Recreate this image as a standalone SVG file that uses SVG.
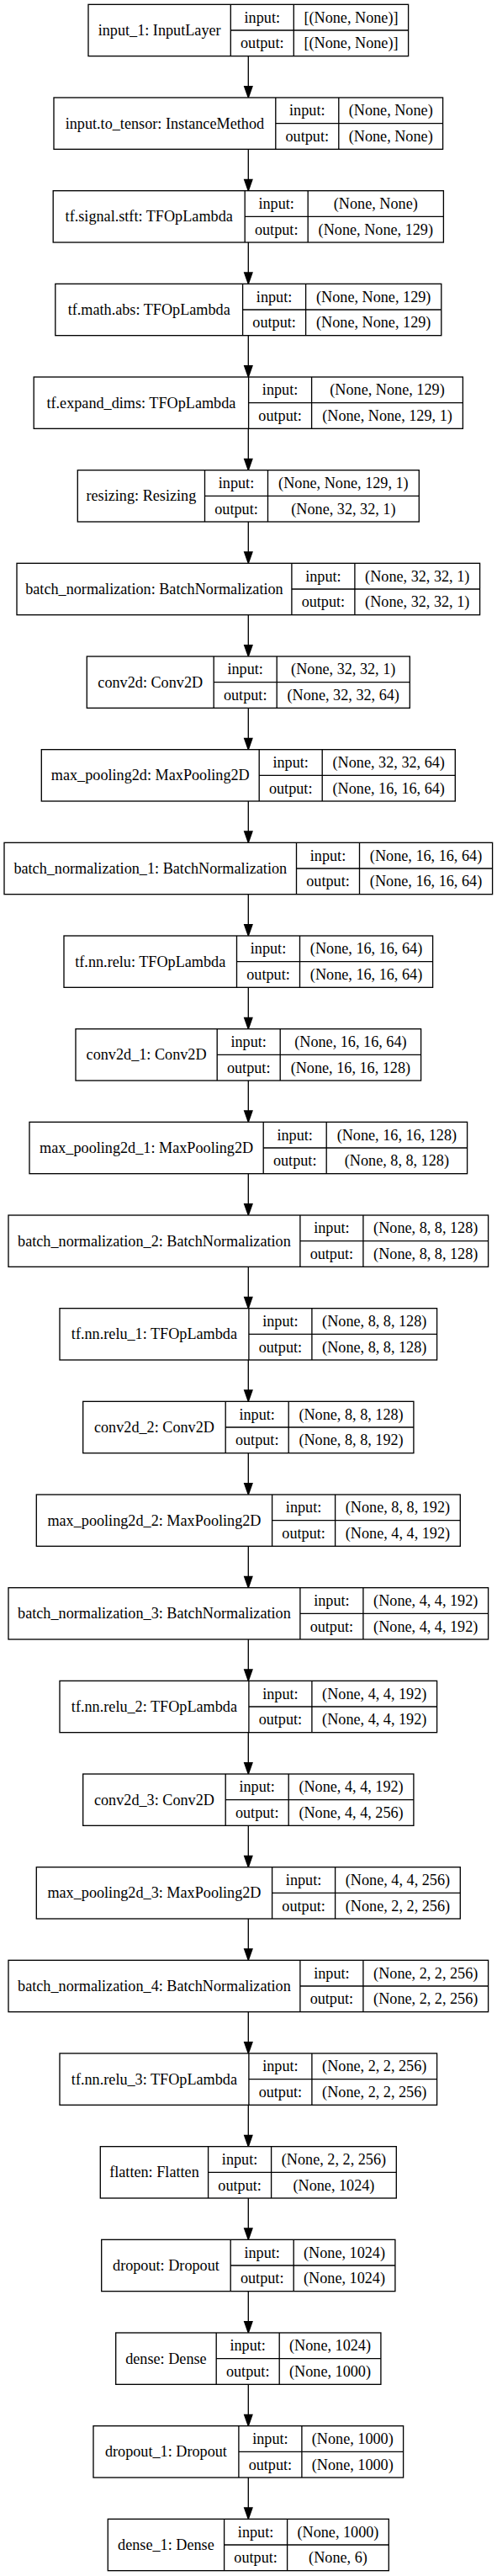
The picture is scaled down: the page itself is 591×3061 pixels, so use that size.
<svg xmlns="http://www.w3.org/2000/svg" width="591" height="3061" viewBox="0 0 591 3061">
<style>
.nd rect{fill:#fff;stroke:#000;stroke-width:1.33}
.nd path{fill:none;stroke:#000;stroke-width:1.33}
.nd text{font-family:"Liberation Serif","Times New Roman",serif;font-size:18.2px;fill:#000;text-anchor:middle}
#edges path{fill:none;stroke:#000;stroke-width:1.33}
</style>
<defs>
<marker id="arrow" markerUnits="userSpaceOnUse" markerWidth="16" markerHeight="12" refX="1" refY="6" orient="auto" overflow="visible">
<path d="M1,1.33 L14.33,6 L1,10.67 Z" fill="#000" stroke="#000" stroke-width="1.33"/>
</marker>
</defs>
<rect x="0" y="0" width="591" height="3061" fill="#fff"/>
<g id="edges">
<path d="M295.3 66.67V102.67" marker-end="url(#arrow)"/>
<path d="M295.3 177.33V213.33" marker-end="url(#arrow)"/>
<path d="M295.3 288V324" marker-end="url(#arrow)"/>
<path d="M295.3 398.67V434.67" marker-end="url(#arrow)"/>
<path d="M295.3 509.33V545.33" marker-end="url(#arrow)"/>
<path d="M295.3 620V656" marker-end="url(#arrow)"/>
<path d="M295.3 730.67V766.67" marker-end="url(#arrow)"/>
<path d="M295.3 841.33V877.33" marker-end="url(#arrow)"/>
<path d="M295.3 952V988" marker-end="url(#arrow)"/>
<path d="M295.3 1062.67V1098.67" marker-end="url(#arrow)"/>
<path d="M295.3 1173.33V1209.33" marker-end="url(#arrow)"/>
<path d="M295.3 1284V1320" marker-end="url(#arrow)"/>
<path d="M295.3 1394.67V1430.67" marker-end="url(#arrow)"/>
<path d="M295.3 1505.33V1541.33" marker-end="url(#arrow)"/>
<path d="M295.3 1616V1652" marker-end="url(#arrow)"/>
<path d="M295.3 1726.67V1762.67" marker-end="url(#arrow)"/>
<path d="M295.3 1837.33V1873.33" marker-end="url(#arrow)"/>
<path d="M295.3 1948V1984" marker-end="url(#arrow)"/>
<path d="M295.3 2058.67V2094.67" marker-end="url(#arrow)"/>
<path d="M295.3 2169.33V2205.33" marker-end="url(#arrow)"/>
<path d="M295.3 2280V2316" marker-end="url(#arrow)"/>
<path d="M295.3 2390.67V2426.67" marker-end="url(#arrow)"/>
<path d="M295.3 2501.33V2537.33" marker-end="url(#arrow)"/>
<path d="M295.3 2612V2648" marker-end="url(#arrow)"/>
<path d="M295.3 2722.67V2758.67" marker-end="url(#arrow)"/>
<path d="M295.3 2833.33V2869.33" marker-end="url(#arrow)"/>
<path d="M295.3 2944V2980" marker-end="url(#arrow)"/>
</g>
<g id="input_1" class="nd" transform="translate(0,5.33)">
<rect x="105" y="0" width="380.6" height="61.33"/>
<path d="M274.3 0V61.33M349.3 0V61.33M274.3 30.67H485.6"/>
<text x="189.65" y="36.67">input_1: InputLayer</text>
<text x="311.8" y="21.33">input:</text><text x="311.8" y="52">output:</text>
<text x="417.45" y="21.33">[(None, None)]</text><text x="417.45" y="52">[(None, None)]</text>
</g>
<g id="input_to_tensor" class="nd" transform="translate(0,116)">
<rect x="64" y="0" width="462.6" height="61.33"/>
<path d="M327.8 0V61.33M402.8 0V61.33M327.8 30.67H526.6"/>
<text x="195.9" y="36.67">input.to_tensor: InstanceMethod</text>
<text x="365.3" y="21.33">input:</text><text x="365.3" y="52">output:</text>
<text x="464.7" y="21.33">(None, None)</text><text x="464.7" y="52">(None, None)</text>
</g>
<g id="tf_signal_stft" class="nd" transform="translate(0,226.67)">
<rect x="63.2" y="0" width="464.2" height="61.33"/>
<path d="M291.2 0V61.33M366.2 0V61.33M291.2 30.67H527.4"/>
<text x="177.2" y="36.67">tf.signal.stft: TFOpLambda</text>
<text x="328.7" y="21.33">input:</text><text x="328.7" y="52">output:</text>
<text x="446.8" y="21.33">(None, None)</text><text x="446.8" y="52">(None, None, 129)</text>
</g>
<g id="tf_math_abs" class="nd" transform="translate(0,337.33)">
<rect x="65.8" y="0" width="459" height="61.33"/>
<path d="M288.6 0V61.33M363.6 0V61.33M288.6 30.67H524.8"/>
<text x="177.2" y="36.67">tf.math.abs: TFOpLambda</text>
<text x="326.1" y="21.33">input:</text><text x="326.1" y="52">output:</text>
<text x="444.2" y="21.33">(None, None, 129)</text><text x="444.2" y="52">(None, None, 129)</text>
</g>
<g id="tf_expand_dims" class="nd" transform="translate(0,448)">
<rect x="40.2" y="0" width="510.2" height="61.33"/>
<path d="M295.6 0V61.33M370.6 0V61.33M295.6 30.67H550.4"/>
<text x="167.9" y="36.67">tf.expand_dims: TFOpLambda</text>
<text x="333.1" y="21.33">input:</text><text x="333.1" y="52">output:</text>
<text x="460.5" y="21.33">(None, None, 129)</text><text x="460.5" y="52">(None, None, 129, 1)</text>
</g>
<g id="resizing" class="nd" transform="translate(0,558.67)">
<rect x="92.3" y="0" width="406" height="61.33"/>
<path d="M243.5 0V61.33M318.5 0V61.33M243.5 30.67H498.3"/>
<text x="167.9" y="36.67">resizing: Resizing</text>
<text x="281" y="21.33">input:</text><text x="281" y="52">output:</text>
<text x="408.4" y="21.33">(None, None, 129, 1)</text><text x="408.4" y="52">(None, 32, 32, 1)</text>
</g>
<g id="batch_normalization" class="nd" transform="translate(0,669.33)">
<rect x="20" y="0" width="550.6" height="61.33"/>
<path d="M346.9 0V61.33M421.9 0V61.33M346.9 30.67H570.6"/>
<text x="183.45" y="36.67">batch_normalization: BatchNormalization</text>
<text x="384.4" y="21.33">input:</text><text x="384.4" y="52">output:</text>
<text x="496.25" y="21.33">(None, 32, 32, 1)</text><text x="496.25" y="52">(None, 32, 32, 1)</text>
</g>
<g id="conv2d" class="nd" transform="translate(0,780)">
<rect x="103.3" y="0" width="384" height="61.33"/>
<path d="M254.2 0V61.33M329.2 0V61.33M254.2 30.67H487.3"/>
<text x="178.75" y="36.67">conv2d: Conv2D</text>
<text x="291.7" y="21.33">input:</text><text x="291.7" y="52">output:</text>
<text x="408.25" y="21.33">(None, 32, 32, 1)</text><text x="408.25" y="52">(None, 32, 32, 64)</text>
</g>
<g id="max_pooling2d" class="nd" transform="translate(0,890.67)">
<rect x="49.3" y="0" width="492" height="61.33"/>
<path d="M308.2 0V61.33M383.2 0V61.33M308.2 30.67H541.3"/>
<text x="178.75" y="36.67">max_pooling2d: MaxPooling2D</text>
<text x="345.7" y="21.33">input:</text><text x="345.7" y="52">output:</text>
<text x="462.25" y="21.33">(None, 32, 32, 64)</text><text x="462.25" y="52">(None, 16, 16, 64)</text>
</g>
<g id="batch_normalization_1" class="nd" transform="translate(0,1001.33)">
<rect x="5" y="0" width="580.6" height="61.33"/>
<path d="M352.5 0V61.33M427.5 0V61.33M352.5 30.67H585.6"/>
<text x="178.75" y="36.67">batch_normalization_1: BatchNormalization</text>
<text x="390" y="21.33">input:</text><text x="390" y="52">output:</text>
<text x="506.55" y="21.33">(None, 16, 16, 64)</text><text x="506.55" y="52">(None, 16, 16, 64)</text>
</g>
<g id="tf_nn_relu" class="nd" transform="translate(0,1112)">
<rect x="76" y="0" width="438.6" height="61.33"/>
<path d="M281.5 0V61.33M356.5 0V61.33M281.5 30.67H514.6"/>
<text x="178.75" y="36.67">tf.nn.relu: TFOpLambda</text>
<text x="319" y="21.33">input:</text><text x="319" y="52">output:</text>
<text x="435.55" y="21.33">(None, 16, 16, 64)</text><text x="435.55" y="52">(None, 16, 16, 64)</text>
</g>
<g id="conv2d_1" class="nd" transform="translate(0,1222.67)">
<rect x="90" y="0" width="410.6" height="61.33"/>
<path d="M258.2 0V61.33M333.2 0V61.33M258.2 30.67H500.6"/>
<text x="174.1" y="36.67">conv2d_1: Conv2D</text>
<text x="295.7" y="21.33">input:</text><text x="295.7" y="52">output:</text>
<text x="416.9" y="21.33">(None, 16, 16, 64)</text><text x="416.9" y="52">(None, 16, 16, 128)</text>
</g>
<g id="max_pooling2d_1" class="nd" transform="translate(0,1333.33)">
<rect x="35" y="0" width="520.6" height="61.33"/>
<path d="M313.2 0V61.33M388.2 0V61.33M313.2 30.67H555.6"/>
<text x="174.1" y="36.67">max_pooling2d_1: MaxPooling2D</text>
<text x="350.7" y="21.33">input:</text><text x="350.7" y="52">output:</text>
<text x="471.9" y="21.33">(None, 16, 16, 128)</text><text x="471.9" y="52">(None, 8, 8, 128)</text>
</g>
<g id="batch_normalization_2" class="nd" transform="translate(0,1444)">
<rect x="10" y="0" width="570.6" height="61.33"/>
<path d="M356.9 0V61.33M431.9 0V61.33M356.9 30.67H580.6"/>
<text x="183.45" y="36.67">batch_normalization_2: BatchNormalization</text>
<text x="394.4" y="21.33">input:</text><text x="394.4" y="52">output:</text>
<text x="506.25" y="21.33">(None, 8, 8, 128)</text><text x="506.25" y="52">(None, 8, 8, 128)</text>
</g>
<g id="tf_nn_relu_1" class="nd" transform="translate(0,1554.67)">
<rect x="71" y="0" width="448.6" height="61.33"/>
<path d="M295.9 0V61.33M370.9 0V61.33M295.9 30.67H519.6"/>
<text x="183.45" y="36.67">tf.nn.relu_1: TFOpLambda</text>
<text x="333.4" y="21.33">input:</text><text x="333.4" y="52">output:</text>
<text x="445.25" y="21.33">(None, 8, 8, 128)</text><text x="445.25" y="52">(None, 8, 8, 128)</text>
</g>
<g id="conv2d_2" class="nd" transform="translate(0,1665.33)">
<rect x="98.7" y="0" width="393.2" height="61.33"/>
<path d="M268.2 0V61.33M343.2 0V61.33M268.2 30.67H491.9"/>
<text x="183.45" y="36.67">conv2d_2: Conv2D</text>
<text x="305.7" y="21.33">input:</text><text x="305.7" y="52">output:</text>
<text x="417.55" y="21.33">(None, 8, 8, 128)</text><text x="417.55" y="52">(None, 8, 8, 192)</text>
</g>
<g id="max_pooling2d_2" class="nd" transform="translate(0,1776)">
<rect x="43.3" y="0" width="504" height="61.33"/>
<path d="M323.6 0V61.33M398.6 0V61.33M323.6 30.67H547.3"/>
<text x="183.45" y="36.67">max_pooling2d_2: MaxPooling2D</text>
<text x="361.1" y="21.33">input:</text><text x="361.1" y="52">output:</text>
<text x="472.95" y="21.33">(None, 8, 8, 192)</text><text x="472.95" y="52">(None, 4, 4, 192)</text>
</g>
<g id="batch_normalization_3" class="nd" transform="translate(0,1886.67)">
<rect x="10" y="0" width="570.6" height="61.33"/>
<path d="M356.9 0V61.33M431.9 0V61.33M356.9 30.67H580.6"/>
<text x="183.45" y="36.67">batch_normalization_3: BatchNormalization</text>
<text x="394.4" y="21.33">input:</text><text x="394.4" y="52">output:</text>
<text x="506.25" y="21.33">(None, 4, 4, 192)</text><text x="506.25" y="52">(None, 4, 4, 192)</text>
</g>
<g id="tf_nn_relu_2" class="nd" transform="translate(0,1997.33)">
<rect x="71" y="0" width="448.6" height="61.33"/>
<path d="M295.9 0V61.33M370.9 0V61.33M295.9 30.67H519.6"/>
<text x="183.45" y="36.67">tf.nn.relu_2: TFOpLambda</text>
<text x="333.4" y="21.33">input:</text><text x="333.4" y="52">output:</text>
<text x="445.25" y="21.33">(None, 4, 4, 192)</text><text x="445.25" y="52">(None, 4, 4, 192)</text>
</g>
<g id="conv2d_3" class="nd" transform="translate(0,2108)">
<rect x="98.7" y="0" width="393.2" height="61.33"/>
<path d="M268.2 0V61.33M343.2 0V61.33M268.2 30.67H491.9"/>
<text x="183.45" y="36.67">conv2d_3: Conv2D</text>
<text x="305.7" y="21.33">input:</text><text x="305.7" y="52">output:</text>
<text x="417.55" y="21.33">(None, 4, 4, 192)</text><text x="417.55" y="52">(None, 4, 4, 256)</text>
</g>
<g id="max_pooling2d_3" class="nd" transform="translate(0,2218.67)">
<rect x="43.3" y="0" width="504" height="61.33"/>
<path d="M323.6 0V61.33M398.6 0V61.33M323.6 30.67H547.3"/>
<text x="183.45" y="36.67">max_pooling2d_3: MaxPooling2D</text>
<text x="361.1" y="21.33">input:</text><text x="361.1" y="52">output:</text>
<text x="472.95" y="21.33">(None, 4, 4, 256)</text><text x="472.95" y="52">(None, 2, 2, 256)</text>
</g>
<g id="batch_normalization_4" class="nd" transform="translate(0,2329.33)">
<rect x="10" y="0" width="570.6" height="61.33"/>
<path d="M356.9 0V61.33M431.9 0V61.33M356.9 30.67H580.6"/>
<text x="183.45" y="36.67">batch_normalization_4: BatchNormalization</text>
<text x="394.4" y="21.33">input:</text><text x="394.4" y="52">output:</text>
<text x="506.25" y="21.33">(None, 2, 2, 256)</text><text x="506.25" y="52">(None, 2, 2, 256)</text>
</g>
<g id="tf_nn_relu_3" class="nd" transform="translate(0,2440)">
<rect x="71" y="0" width="448.6" height="61.33"/>
<path d="M295.9 0V61.33M370.9 0V61.33M295.9 30.67H519.6"/>
<text x="183.45" y="36.67">tf.nn.relu_3: TFOpLambda</text>
<text x="333.4" y="21.33">input:</text><text x="333.4" y="52">output:</text>
<text x="445.25" y="21.33">(None, 2, 2, 256)</text><text x="445.25" y="52">(None, 2, 2, 256)</text>
</g>
<g id="flatten" class="nd" transform="translate(0,2550.67)">
<rect x="119.3" y="0" width="352" height="61.33"/>
<path d="M247.6 0V61.33M322.6 0V61.33M247.6 30.67H471.3"/>
<text x="183.45" y="36.67">flatten: Flatten</text>
<text x="285.1" y="21.33">input:</text><text x="285.1" y="52">output:</text>
<text x="396.95" y="21.33">(None, 2, 2, 256)</text><text x="396.95" y="52">(None, 1024)</text>
</g>
<g id="dropout" class="nd" transform="translate(0,2661.33)">
<rect x="120.7" y="0" width="349.2" height="61.33"/>
<path d="M274.2 0V61.33M349.2 0V61.33M274.2 30.67H469.9"/>
<text x="197.45" y="36.67">dropout: Dropout</text>
<text x="311.7" y="21.33">input:</text><text x="311.7" y="52">output:</text>
<text x="409.55" y="21.33">(None, 1024)</text><text x="409.55" y="52">(None, 1024)</text>
</g>
<g id="dense" class="nd" transform="translate(0,2772)">
<rect x="137.7" y="0" width="315.2" height="61.33"/>
<path d="M257.2 0V61.33M332.2 0V61.33M257.2 30.67H452.9"/>
<text x="197.45" y="36.67">dense: Dense</text>
<text x="294.7" y="21.33">input:</text><text x="294.7" y="52">output:</text>
<text x="392.55" y="21.33">(None, 1024)</text><text x="392.55" y="52">(None, 1000)</text>
</g>
<g id="dropout_1" class="nd" transform="translate(0,2882.67)">
<rect x="111" y="0" width="368.6" height="61.33"/>
<path d="M283.9 0V61.33M358.9 0V61.33M283.9 30.67H479.6"/>
<text x="197.45" y="36.67">dropout_1: Dropout</text>
<text x="321.4" y="21.33">input:</text><text x="321.4" y="52">output:</text>
<text x="419.25" y="21.33">(None, 1000)</text><text x="419.25" y="52">(None, 1000)</text>
</g>
<g id="dense_1" class="nd" transform="translate(0,2993.33)">
<rect x="128.3" y="0" width="334" height="61.33"/>
<path d="M266.6 0V61.33M341.6 0V61.33M266.6 30.67H462.3"/>
<text x="197.45" y="36.67">dense_1: Dense</text>
<text x="304.1" y="21.33">input:</text><text x="304.1" y="52">output:</text>
<text x="401.95" y="21.33">(None, 1000)</text><text x="401.95" y="52">(None, 6)</text>
</g>
</svg>
